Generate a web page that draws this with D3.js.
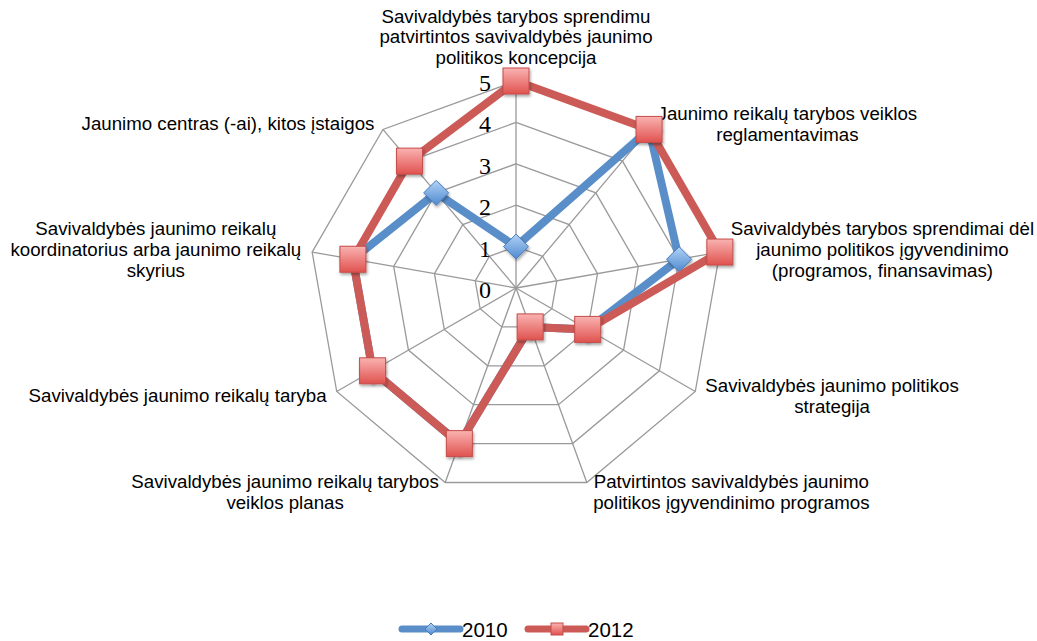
<!DOCTYPE html>
<html>
<head>
<meta charset="utf-8">
<script src="https://cdn.jsdelivr.net/npm/d3@7"></script>
<style>
  body { margin: 0; background: #fff; }
  svg { display: block; }
</style>
</head>
<body>
<svg id="chart" width="1037" height="641"></svg>
<script>
// category labels, one entry per axis (clockwise from the top), split into lines
const categories = [
  ["Savivaldybės tarybos sprendimu", "patvirtintos savivaldybės jaunimo", "politikos koncepcija"],
  ["Jaunimo reikalų tarybos veiklos", "reglamentavimas"],
  ["Savivaldybės tarybos sprendimai dėl", "jaunimo politikos įgyvendinimo", "(programos, finansavimas)"],
  ["Savivaldybės jaunimo politikos", "strategija"],
  ["Patvirtintos savivaldybės jaunimo", "politikos įgyvendinimo programos"],
  ["Savivaldybės jaunimo reikalų tarybos", "veiklos planas"],
  ["Savivaldybės jaunimo reikalų taryba"],
  ["Savivaldybės jaunimo reikalų", "koordinatorius arba jaunimo reikalų", "skyrius"],
  ["Jaunimo centras (-ai), kitos įstaigos"]
];
const values2010 = [1, 5, 4, 2, 1, 4, 4, 4, 3];
const values2012 = [5, 5, 5, 2, 1, 4, 4, 4, 4];
const seriesNames = ["2010", "2012"];
const tickValues = [0, 1, 2, 3, 4, 5];

const svg = d3.select("#chart");
const cx = 516, cy = 288, R = 207;
const n = categories.length;

const r = d3.scaleLinear().domain([0, 5]).range([0, R]);
const angle = d3.scaleLinear().domain([0, n]).range([0, 2 * Math.PI]);

function pt(i, v) {
  const a = angle(i);
  return [cx + r(v) * Math.sin(a), cy - r(v) * Math.cos(a)];
}

// gradients + shadow for the markers
const defs = svg.append("defs");
function grad(id, top, bottom) {
  const g = defs.append("linearGradient").attr("id", id)
    .attr("x1", 0).attr("y1", 0).attr("x2", 0).attr("y2", 1);
  g.append("stop").attr("offset", "0%").attr("stop-color", top);
  g.append("stop").attr("offset", "100%").attr("stop-color", bottom);
}
grad("gradRed", "#f9b3b1", "#e0524f");
grad("gradBlue", "#b2d3f7", "#4f89cf");
defs.append("filter").attr("id", "shadow")
  .attr("x", "-30%").attr("y", "-30%").attr("width", "170%").attr("height", "170%")
  .append("feDropShadow")
  .attr("dx", 1).attr("dy", 2).attr("stdDeviation", 1.5)
  .attr("flood-color", "#000").attr("flood-opacity", 0.35);

// grid
const grid = svg.append("g").attr("transform", `translate(${cx},${cy})`);
const idx = d3.range(n);
tickValues.filter(t => t > 0).forEach(t => {
  const ring = d3.lineRadial()
    .angle(i => angle(i))
    .radius(r(t))
    .curve(d3.curveLinearClosed);
  grid.append("path")
    .attr("d", ring(idx))
    .attr("fill", "none")
    .attr("stroke", "#9a9a9a")
    .attr("stroke-width", 1.3);
});
grid.selectAll(".spoke")
  .data(idx)
  .enter()
  .append("line")
  .attr("class", "spoke")
  .attr("x1", 0).attr("y1", 0)
  .attr("x2", i => r(5) * Math.sin(angle(i)))
  .attr("y2", i => -r(5) * Math.cos(angle(i)))
  .attr("stroke", "#9a9a9a")
  .attr("stroke-width", 1.3);

// value ticks
svg.selectAll(".tick")
  .data(tickValues)
  .enter()
  .append("text")
  .attr("class", "tick")
  .attr("x", cx - 25)
  .attr("y", t => cy - r(t) + 10)
  .attr("text-anchor", "end")
  .style("font-family", "'Liberation Serif', 'Times New Roman', serif")
  .style("font-size", "24px")
  .attr("fill", "#000")
  .text(t => t);

// category labels
const lh = 20.8;
categories.forEach((lines, i) => {
  const a = angle(i);
  const s = Math.sin(a), c = Math.cos(a);
  const [ex, ey] = pt(i, 5);
  const t = svg.append("text")
    .attr("text-anchor", "middle")
    .style("font-family", "'Liberation Sans', Arial, Helvetica, sans-serif")
    .style("font-size", "18.7px")
    .attr("fill", "#000");
  const spans = t.selectAll("tspan")
    .data(lines)
    .enter()
    .append("tspan")
    .text(d => d);
  let W = 0;
  spans.each(function() { W = Math.max(W, this.getComputedTextLength()); });
  const H = lines.length * lh;
  let x, top;
  if (Math.abs(s) < 0.1) {
    x = ex;
    top = c > 0 ? ey - 11 - H : ey + 11;
  } else {
    const gap = 4 + 7 * Math.abs(s);
    x = s > 0 ? ex + gap + W / 2 : ex - gap - W / 2;
    const mid = ey + (c > 0 ? -c * 5 : -c * 12);
    top = mid - H / 2;
  }
  spans.attr("x", x).attr("y", (d, k) => top + 15 + k * lh);
});

// series
const series = [
  { name: seriesNames[0], values: values2010, color: "#5a8ec8", marker: "diamond" },
  { name: seriesNames[1], values: values2012, color: "#cc5b57", marker: "square" }
];

function drawMarker(g, type, x, y, big) {
  if (type === "square") {
    const h = big ? 13 : 6;
    g.append("rect")
      .attr("x", x - h).attr("y", y - h)
      .attr("width", 2 * h).attr("height", 2 * h)
      .attr("fill", "url(#gradRed)")
      .attr("stroke", "#c44d4a")
      .attr("stroke-width", 1)
      .attr("filter", big ? "url(#shadow)" : null);
  } else {
    const h = big ? 12.5 : 6;
    g.append("path")
      .attr("d", `M${x},${y - h}L${x + h},${y}L${x},${y + h}L${x - h},${y}Z`)
      .attr("fill", "url(#gradBlue)")
      .attr("stroke", "#4a7ebb")
      .attr("stroke-width", 1)
      .attr("filter", big ? "url(#shadow)" : null);
  }
}

const plot = svg.append("g").attr("transform", `translate(${cx},${cy})`);
series.forEach(sr => {
  const line = d3.lineRadial()
    .angle((d, i) => angle(i))
    .radius(d => r(d))
    .curve(d3.curveLinearClosed);
  const g = plot.append("g");
  g.append("path")
    .attr("d", line(sr.values))
    .attr("fill", "none")
    .attr("stroke", sr.color)
    .attr("stroke-width", 8)
    .attr("stroke-linejoin", "round");
  sr.values.forEach((v, i) => {
    const [x, y] = pt(i, v);
    drawMarker(g, sr.marker, x - cx, y - cy, true);
  });
});

// legend
const legend = svg.append("g");
const legendX = d3.scalePoint().domain(seriesNames).range([402, 528]);
series.forEach(sr => {
  const x0 = legendX(sr.name), ly = 629;
  legend.append("line")
    .attr("x1", x0).attr("x2", x0 + 58)
    .attr("y1", ly).attr("y2", ly)
    .attr("stroke", sr.color)
    .attr("stroke-width", 7)
    .attr("stroke-linecap", "round");
  drawMarker(legend, sr.marker, x0 + 29, ly, false);
  legend.append("text")
    .attr("x", x0 + 60)
    .attr("y", 637)
    .style("font-family", "'Liberation Sans', Arial, Helvetica, sans-serif")
    .style("font-size", "20.5px")
    .attr("fill", "#000")
    .text(sr.name);
});
</script>
</body>
</html>
